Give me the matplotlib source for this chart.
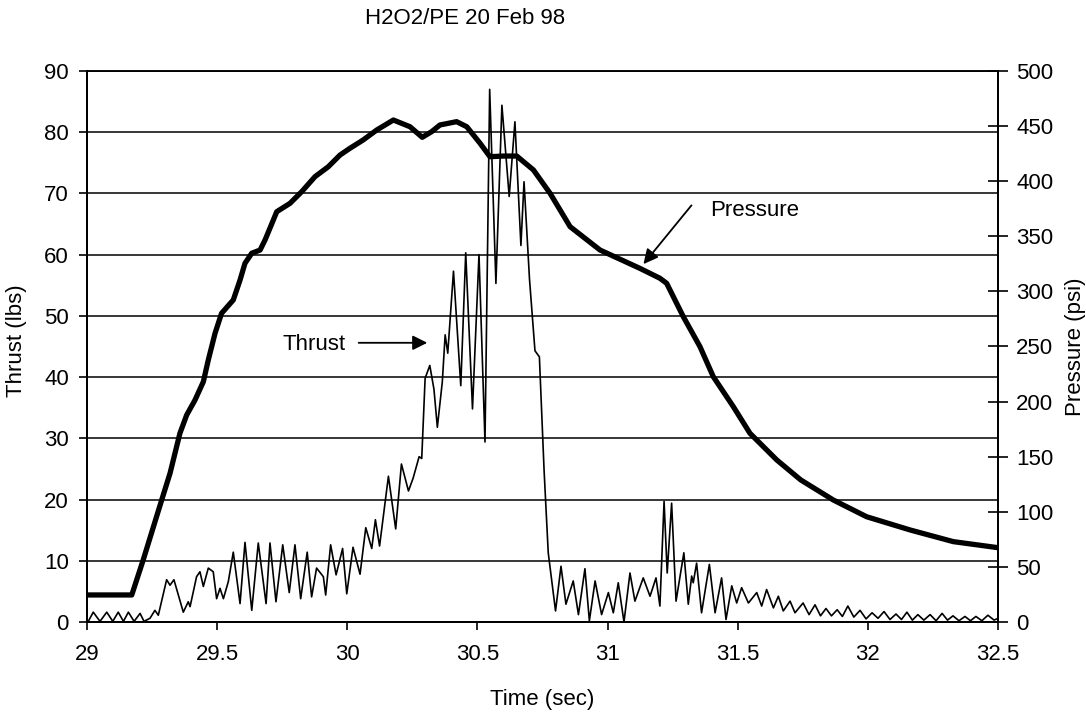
import matplotlib
matplotlib.use("Agg")
import matplotlib.pyplot as plt

plt.rcParams['font.family'] = ['Liberation Sans', 'DejaVu Sans']
plt.rcParams['font.size'] = 16

# thrust (lbs) vs time (sec)
thrust_t = [29.000, 29.005, 29.024, 29.050, 29.076, 29.099, 29.120, 29.140, 29.159, 29.181,
            29.204, 29.219, 29.242, 29.261, 29.274, 29.306, 29.319, 29.334, 29.370, 29.389,
            29.396, 29.421, 29.434, 29.447, 29.466, 29.485, 29.498, 29.511, 29.524, 29.543,
            29.562, 29.588, 29.607, 29.633, 29.658, 29.688, 29.703, 29.726, 29.752, 29.777,
            29.799, 29.821, 29.846, 29.863, 29.882, 29.908, 29.917, 29.936, 29.957, 29.982,
            29.998, 30.022, 30.049, 30.071, 30.094, 30.108, 30.124, 30.158, 30.186, 30.208,
            30.235, 30.253, 30.276, 30.286, 30.299, 30.317, 30.333, 30.346, 30.365, 30.376,
            30.386, 30.408, 30.436, 30.455, 30.481, 30.506, 30.529, 30.547, 30.571, 30.594,
            30.622, 30.644, 30.667, 30.679, 30.700, 30.721, 30.738, 30.756, 30.772, 30.800,
            30.821, 30.840, 30.868, 30.888, 30.913, 30.930, 30.952, 30.977, 31.003, 31.022,
            31.041, 31.063, 31.086, 31.105, 31.137, 31.163, 31.186, 31.201, 31.217, 31.229,
            31.246, 31.263, 31.293, 31.310, 31.323, 31.329, 31.342, 31.361, 31.391, 31.413,
            31.438, 31.455, 31.477, 31.496, 31.515, 31.541, 31.573, 31.592, 31.611, 31.637,
            31.656, 31.675, 31.701, 31.720, 31.751, 31.774, 31.797, 31.818, 31.839, 31.860,
            31.882, 31.902, 31.923, 31.946, 31.970, 31.993, 32.016, 32.039, 32.062, 32.085,
            32.108, 32.129, 32.150, 32.171, 32.192, 32.215, 32.239, 32.262, 32.285, 32.306,
            32.327, 32.350, 32.373, 32.394, 32.415, 32.438, 32.461, 32.485, 32.500]
thrust_v = [0.0, 0.1, 1.6, 0.1, 1.6, 0.1, 1.6, 0.1, 1.6, 0.1,
            1.4, 0.1, 0.6, 1.9, 1.1, 6.9, 6.0, 6.9, 1.6, 3.3,
            2.5, 7.4, 8.2, 5.8, 8.8, 8.2, 3.8, 5.5, 3.8, 6.6,
            11.4, 3.0, 13.0, 1.9, 12.9, 3.0, 12.9, 3.3, 12.6, 4.8,
            12.6, 3.8, 11.4, 4.1, 8.8, 7.4, 4.4, 12.6, 7.7, 12.0,
            4.6, 12.2, 7.8, 15.4, 12.0, 16.7, 12.4, 23.8, 15.2, 25.8,
            21.4, 23.5, 27.0, 26.7, 39.8, 41.9, 38.0, 31.8, 39.2, 46.9,
            43.9, 57.3, 38.6, 60.3, 34.8, 60.0, 29.4, 87.0, 55.3, 84.4,
            69.5, 81.7, 61.5, 71.9, 56.0, 44.3, 43.3, 24.8, 11.3, 1.8,
            9.1, 2.9, 6.7, 1.2, 8.7, 0.2, 6.7, 1.2, 4.8, 1.5,
            6.4, 0.0, 8.0, 3.4, 7.2, 4.2, 7.2, 2.6, 19.7, 8.0,
            19.4, 3.4, 11.3, 2.9, 7.5, 6.4, 9.6, 1.5, 9.4, 1.5,
            7.2, 0.4, 5.9, 3.1, 5.6, 3.1, 4.8, 2.6, 5.3, 2.3,
            4.2, 1.8, 3.4, 1.5, 3.1, 1.2, 2.8, 1.0, 2.2, 1.0,
            2.0, 0.9, 2.6, 0.8, 1.9, 0.5, 1.5, 0.6, 1.7, 0.4,
            1.3, 0.4, 1.6, 0.3, 1.2, 0.3, 1.2, 0.2, 1.4, 0.3,
            1.0, 0.2, 0.9, 0.2, 0.9, 0.2, 1.1, 0.3, 0.6]

# chamber pressure (psi)
pressure_t = [29.000, 29.172, 29.216, 29.287, 29.319, 29.357, 29.383, 29.415, 29.447, 29.466,
              29.492, 29.517, 29.562, 29.588, 29.607, 29.633, 29.665, 29.684, 29.716, 29.729,
              29.780, 29.825, 29.876, 29.927, 29.972, 30.010, 30.061, 30.113, 30.177, 30.241,
              30.288, 30.324, 30.356, 30.420, 30.459, 30.510, 30.548, 30.599, 30.651, 30.715,
              30.779, 30.856, 30.971, 31.124, 31.201, 31.227, 31.291, 31.355, 31.406, 31.483,
              31.547, 31.650, 31.742, 31.867, 31.995, 32.162, 32.328, 32.500]
pressure_v = [24.5, 24.5, 56.3, 110.7, 134.9, 171.2, 187.8, 201.4, 218.0, 237.7,
              262.0, 280.1, 292.2, 310.3, 325.5, 334.6, 337.5, 346.6, 364.8, 372.3,
              379.9, 390.5, 404.1, 413.1, 423.7, 429.8, 437.4, 446.4, 455.5, 449.4,
              439.8, 444.9, 451.0, 454.0, 449.4, 434.4, 422.2, 422.8, 422.8, 410.2,
              389.0, 358.7, 337.5, 320.9, 311.9, 307.3, 277.0, 249.8, 222.6, 195.4,
              171.2, 147.0, 128.9, 110.7, 95.5, 83.5, 72.9, 67.4]

x_ticks = [29, 29.5, 30, 30.5, 31, 31.5, 32, 32.5]

fig = plt.figure(figsize=(10.86, 7.14), dpi=100)
ax = fig.add_axes([0.0801, 0.1289, 0.8389, 0.7717])
ax2 = ax.twinx()

ax.plot(thrust_t, thrust_v, color='black', linewidth=1.2)
ax2.plot(pressure_t, pressure_v, color='black', linewidth=3.8, solid_capstyle='butt')

ax.set_xlim(29, 32.5)
ax.set_ylim(0, 90)
ax2.set_ylim(0, 500)
ax.set_xticks(x_ticks)
ax.set_xticklabels(['{:g}'.format(v) for v in x_ticks])
ax.set_yticks(range(0, 91, 10))
ax2.set_yticks(range(0, 501, 50))

ax.yaxis.grid(True, color='black', linewidth=1.1)
ax.tick_params(axis='x', direction='out', length=6, width=1.2, pad=10)
ax.tick_params(axis='y', direction='out', length=6, width=1.2, pad=7)
ax2.tick_params(axis='y', direction='inout', length=14, width=1.2, pad=6)

for a in (ax, ax2):
    for s in a.spines.values():
        s.set_linewidth(1.4)
    a.spines['top'].set_linewidth(1.1)

ax.set_xlabel('Time (sec)')
ax.set_ylabel('Thrust (lbs)')
ax2.set_ylabel('Pressure (psi)')
ax.xaxis.set_label_coords(0.5, -0.122)
ax.yaxis.set_label_coords(-0.066, 0.51)
ax2.yaxis.set_label_coords(1.073, 0.5)

fig.text(465 / 1086, 1 - 19 / 714, 'H2O2/PE 20 Feb 98', ha='center', va='center')

# labels with arrows
ax.text(29.753, 45.4, 'Thrust', ha='left', va='center')
ax.annotate('', xy=(30.318, 45.6), xytext=(30.033, 45.6),
            arrowprops=dict(arrowstyle='-|>', color='black', lw=1.3, mutation_scale=22))
ax.text(31.393, 67.2, 'Pressure', ha='left', va='center')
ax.annotate('', xy=(31.131, 58.1), xytext=(31.329, 68.4),
            arrowprops=dict(arrowstyle='-|>', color='black', lw=1.3, mutation_scale=22))

fig.savefig('out.png', dpi=100)
